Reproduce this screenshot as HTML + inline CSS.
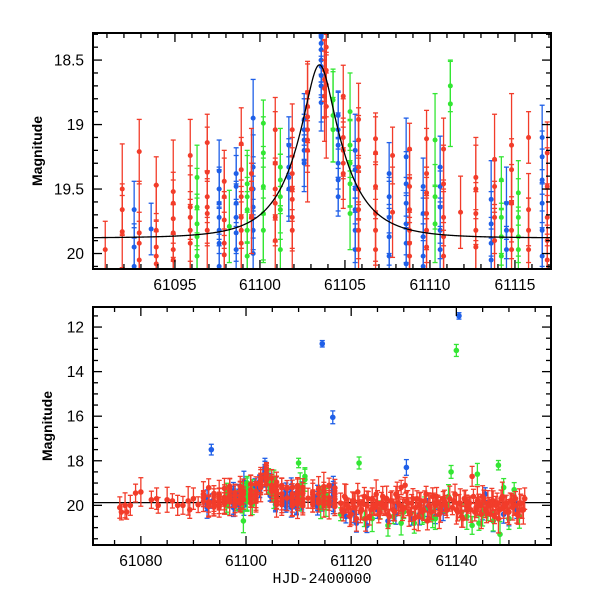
<!DOCTYPE html>
<html><head><meta charset="utf-8"><style>
html,body{margin:0;padding:0;background:#fff;}
svg{display:block;font-family:"Liberation Sans",sans-serif;}
</style></head><body>
<svg id="chart" width="600" height="600" viewBox="0 0 600 600">
<defs>
<clipPath id="clipTop"><rect x="93" y="33" width="458" height="236"/></clipPath>
<clipPath id="clipBot"><rect x="93" y="307" width="458" height="238"/></clipPath>
</defs>
<g id="top"></g>
<g id="bot"></g>
</svg>
<script>
const redT=[
61076,61076.3,61077,61077.3,61078,61079,61080,61082,61083,61083.3,61085,61086,61087,61088,61089,61089.3,61090,
61090.9,
61091.9,61091.9,61091.9,
61092.9,61092.9,61092.9,61092.9,
61093.9,61093.9,61093.9,61093.9,61093.9,
61094.9,61094.9,61094.9,61094.9,61094.9,61094.9,
61095.9,61095.9,61095.9,61095.9,61095.9,
61096.9,61096.9,61096.9,61096.9,61096.9,61096.9,
61097.9,61097.9,61097.9,61097.9,61097.9,
61098.9,61098.9,61098.9,61098.9,61098.9,61098.9,
61099.5,61099.5,61099.5,
61100.9,61100.9,61100.9,61100.9,61100.9,61100.9,
61101.9,61101.9,61101.9,61101.9,61101.9,61101.9,
61102.8,61102.8,61102.8,61102.8,61102.8,61102.8,
61103.8,61103.8,61103.8,61103.8,
61103.9,61103.9,61103.9,61103.9,
61104.9,61104.9,61104.9,61104.9,61104.9,
61105.8,61105.8,61105.8,61105.8,61105.8,61105.8,61105.8,
61106.8,61106.8,61106.8,61106.8,61106.8,61106.8,
61107.8,61107.8,
61108.8,61108.8,61108.8,61108.8,61108.8,61108.8,
61109.8,61109.8,61109.8,61109.8,61109.8,61109.8,
61110.8,61110.8,61110.8,61110.8,61110.8,
61111.8,
61112.7,61112.7,61112.7,61112.7,61112.7,
61113.8,61113.8,61113.8,61113.8,
61114.8,61114.8,61114.8,61114.8,61114.8,
61115.8,61115.8,61115.8,61115.8,
61116.9,61116.9,61116.9,61116.9,61116.9,
61118,61118.5,61119,61119.5,61120,61120.5,61121,61121.5,61122,61122.5,61123,61123.5,61124,61124.5,61125,61125.5,61126,61126.5,61127,61127.5,61128,61128.5,61129,61129.5,61130,61130.5,61131,61131.5,61132,61132.5,61133,61133.5,61134,61134.5,61135,61135.5,61136,61136.5,61137,61137.5,61138,61139.5,61140,61140.5,61141,61141.5,61142,61142.5,61143,61143.5,61144,61144.5,61145,61145.5,61146,61146.5,61147,61147.5,61148,61148.5,61149,61149.5,61150,61150.5,61151,61151.5,61152,61152.5,61153,
61118.25,61118.75,61119.25,61119.75,61120.25,61120.75,61121.25,61121.75,61122.25,61122.75,
61123.25,61123.75,61124.25,61124.75,61125.25,61125.75,61126.25,61126.75,61127.25,61127.75,
61128.25,61128.75,61129.25,61129.75,61130.25,61130.75,61131.25,61131.75,61132.25,61132.75,
61133.25,61133.75,61134.25,61134.75,61135.25,61135.75,61136.25,61136.75,61137.25,61137.75,
61138.25,61138.75,61139.25,61139.75,61140.25,61140.75,61141.25,61141.75,61142.25,61142.75,
61143.25,61143.75,61144.25,61144.75,61145.25,61145.75,61146.25,61146.75,61147.25,61147.75,
61148.25,61148.75,61149.25,61149.75,61150.25,61150.75,61151.25,61151.75,61152.25,61152.75];
const redM=[
20.1,20.3,20.0,20.3,20.0,19.45,19.4,19.75,19.7,20.0,19.75,19.8,20.0,20.0,19.8,20.2,19.7,
19.97,
19.5,19.66,19.83,
19.21,19.84,19.92,20.05,
19.47,19.82,19.95,20.02,20.08,
19.52,19.61,19.73,19.84,19.97,20.05,
19.24,19.64,19.72,19.82,19.92,
19.14,19.37,19.56,19.64,19.69,19.82,
19.44,19.56,19.74,19.92,20.01,
19.15,19.35,19.56,19.72,19.82,19.92,
19.38,19.5,19.72,
19.04,19.3,19.5,19.61,19.72,19.9,
19.04,19.38,19.5,19.58,19.72,19.82,
18.75,18.86,18.94,19.04,19.12,19.2,
18.58,18.65,18.72,18.78,
18.4,18.58,18.69,18.86,
18.78,19.1,19.2,19.3,19.38,
18.96,19.12,19.33,19.5,19.66,19.82,19.97,
19.11,19.22,19.48,19.69,19.82,19.97,
19.24,19.68,
19.19,19.48,19.66,19.82,19.92,20.02,
19.11,19.38,19.53,19.69,19.82,19.95,
19.19,19.46,19.72,19.87,20.02,
19.68,
19.41,19.5,19.69,19.82,19.95,
19.27,19.48,19.72,19.9,
19.16,19.35,19.61,19.82,19.97,
19.1,19.66,19.82,19.97,
19.22,19.48,19.72,19.9,20.05,
19.9,20.3,19.7,20.1,20.4,19.8,20.6,19.9,20.2,19.6,20.0,20.5,19.7,20.1,19.9,20.3,19.6,20.0,20.4,19.8,20.2,19.5,19.9,19.2,20.1,19.8,20.3,19.9,20.6,19.7,20.0,20.3,19.8,20.7,20.1,19.6,20.0,19.9,20.2,19.7,20.0,19.8,20.2,19.9,20.5,19.7,20.1,19.9,18.7,20.3,19.8,20.0,19.6,20.2,19.9,20.4,19.8,20.0,20.6,19.7,20.1,19.9,20.3,19.8,20.0,20.4,19.9,20.2,19.7,
20.2,19.6,20.0,20.5,19.8,20.1,19.4,20.3,19.9,20.6,
19.7,20.2,20.0,19.5,20.4,19.9,20.1,19.7,20.5,19.8,
20.3,19.6,20.0,20.2,19.1,19.9,20.4,19.7,20.1,20.5,
19.8,20.2,19.5,20.0,20.3,19.9,19.6,20.4,20.0,19.8,
20.2,19.7,20.1,19.5,20.3,19.9,20.6,19.8,20.0,20.2,
19.6,20.1,19.9,20.4,19.7,20.3,20.0,19.8,20.5,19.9,
20.2,19.6,20.0,20.3,19.8,20.1,19.7,20.4,19.9,20.2];
const redErr=[0.3,0.22,0.35,0.2,0.28,0.25,0.4,0.24];
const blueT=[
61092.6,61092.6,61092.6,
61093.4,
61093.6,
61097.6,61097.6,61097.6,61097.6,61097.6,61097.6,61097.6,
61098.6,61098.6,61098.6,61098.6,61098.6,61098.6,
61099.6,61099.6,61099.6,61099.6,61099.6,61099.6,
61101.7,61101.7,61101.7,61101.7,
61102.6,61102.6,61102.6,61102.6,61102.6,
61103.6,61103.6,61103.6,61103.6,61103.6,61103.6,61103.6,61103.6,
61104.6,61104.6,61104.6,61104.6,61104.6,61104.6,
61105.6,61105.6,61105.6,61105.6,61105.6,61105.6,
61107.6,61107.6,61107.6,61107.6,61107.6,
61108.6,61108.6,61108.6,61108.6,61108.6,61108.6,
61109.6,61109.6,61109.6,61109.6,61109.6,
61110.6,61110.6,61110.6,61110.6,61110.6,
61113.6,61113.6,61113.6,61113.6,
61114.5,61114.5,61114.5,61114.5,
61116.5,
61116.6,61116.6,61116.6,61116.6,61116.6,61116.6,
61119,61120.5,61121,61123,61125,61127,61128.5,61130.5,61131.5,61133,61134.5,61136,61137.5,61140.5,61142,61145,61145.5,61147,61149,61150,61151.5];
const blueM=[
19.66,19.95,20.1,
17.5,
19.81,
19.36,19.5,19.61,19.72,19.82,19.92,20.1,
19.38,19.48,19.61,19.72,19.84,19.97,
18.95,19.33,19.5,19.64,19.82,20.0,
19.16,19.33,19.41,19.5,
18.96,19.04,19.12,19.2,19.3,
18.32,18.37,18.42,18.5,18.55,18.62,18.7,18.83,
18.93,19.04,19.16,19.3,19.43,19.56,
19.2,19.35,19.5,19.66,19.82,19.97,
19.38,19.56,19.72,19.87,20.02,
19.25,19.46,19.61,19.77,19.92,20.08,
19.48,19.69,19.87,20.02,20.1,
19.33,19.48,19.64,19.82,19.97,
19.58,19.77,19.92,20.05,
12.75,19.61,19.82,19.97,
16.05,
19.1,19.25,19.43,19.61,19.82,20.02,
20.5,20.3,20.8,20.9,20.2,20.7,20.4,18.3,20.6,20.4,20.1,20.5,20.3,11.5,20.2,20.3,19.5,20.7,20.4,20.6,20.2];
const blueErr=[0.22,0.18,0.3,0.25,0.2,0.24,0.15,0.28];
const greenT=[
61096.3,61096.3,61096.3,61096.3,61096.3,
61098.2,
61099.25,61099.25,61099.25,61099.25,61099.25,
61099.5,
61100.2,61100.2,61100.2,61100.2,61100.2,
61101.2,61101.2,61101.2,61101.2,61101.2,
61104.3,61104.3,61104.3,
61105.3,61105.3,61105.3,61105.3,61105.3,
61110,
61110.3,61110.3,61110.3,
61111.2,61111.2,
61114.2,61114.2,61114.2,61114.2,
61115.2,61115.2,61115.2,61115.2,
61118,61121.5,61122.5,61124,61125.5,61127,61128,61129.5,61130,61132,61133.5,61134,61135.5,61136,61138,61138.5,61139,61140,61141,61142,61143,61144,61144.3,61145,61146,61147,61148,61148.3,61149,61150,61151,61152];
const greenM=[
19.41,19.64,19.77,19.87,20.02,
19.79,
19.46,19.56,19.66,19.82,20.02,
20.7,
18.99,19.22,19.48,19.69,19.82,
19.33,19.43,19.56,19.66,19.97,
18.81,18.93,19.04,
18.9,19.16,19.3,19.46,19.69,
18.1,
19.12,19.56,19.77,
18.7,18.84,
19.43,19.72,19.87,20.02,
19.53,19.72,19.87,19.97,
20.4,18.1,20.6,20.6,20.2,20.9,20.5,20.8,20.3,20.8,20.5,20.2,20.6,20.6,20.0,19.6,18.5,13.05,20.3,20.5,20.9,18.6,20.8,20.4,20.4,20.7,18.2,21.3,19.2,20.6,19.3,20.5];
const greenErr=[0.25,0.3,0.2,0.33,0.18,0.28,0.22,0.36];
// model parameters
const model={t0:61103.5,u0:0.3,tE:2.7,base:19.88};

const NS="http://www.w3.org/2000/svg";
function mk(tag,attrs,parent){const e=document.createElementNS(NS,tag);for(const k in attrs)e.setAttribute(k,attrs[k]);parent.appendChild(e);return e;}
function modelMag(t){const u=Math.sqrt(model.u0*model.u0+Math.pow((t-model.t0)/model.tE,2));const A=(u*u+2)/(u*Math.sqrt(u*u+4));return model.base-2.5*Math.log10(A);}

function panel(g,cfg){
  const L=93,R=551,T=cfg.top,B=cfg.bottom;
  const xs=t=>L+(t-cfg.x0)/(cfg.x1-cfg.x0)*(R-L);
  const ys=m=>T+(m-cfg.y0)/(cfg.y1-cfg.y0)*(B-T);
  const plot=mk('g',{'clip-path':'url(#'+cfg.clip+')'},g);
  
  
  function drawModel(){
    let d='';
    for(let k=0;k<=1200;k++){const t=cfg.x0+(cfg.x1-cfg.x0)*k/1200;d+=(k?'L':'M')+xs(t).toFixed(2)+','+ys(modelMag(t)).toFixed(2);}
    const ml=mk('path',{d:d,fill:'none',stroke:'#000','stroke-width':1.3},plot);
    
    
  }
  if(cfg.modelFirst) drawModel();
  const series=[['blue',blueT,blueM,blueErr,'#1f5fe8'],['green',greenT,greenM,greenErr,'#33e633'],['red',redT,redM,redErr,'#f23c2a']];
  for(const [nm,T_,M_,E_,col] of series){
    const sg=mk('g',{stroke:col,fill:col},plot);
    
    
    const n=Math.min(T_.length,M_.length);
    for(let i=0;i<n;i++){
      const e=E_[i%E_.length]*(M_[i]<18.3?0.6:1)*cfg.errScale;
      const x=xs(T_[i]),y=ys(M_[i]),y1=ys(M_[i]-e),y2=ys(M_[i]+e);
      const pg=mk('g',{},sg);
      
      
      mk('line',{x1:x,x2:x,y1:y1,y2:y2,'stroke-width':1.3},pg);
      mk('line',{x1:x-2.5,x2:x+2.5,y1:y1,y2:y1,'stroke-width':1.3},pg);
      mk('line',{x1:x-2.5,x2:x+2.5,y1:y2,y2:y2,'stroke-width':1.3},pg);
      mk('circle',{cx:x,cy:y,r:cfg.r,stroke:'none'},pg);
    }
  }
  if(!cfg.modelFirst) drawModel();
  const fr=mk('rect',{x:L,y:T,width:R-L,height:B-T,fill:'none',stroke:'#000','stroke-width':2},g);
  
  
  const ax=mk('g',{stroke:'#000','stroke-width':1.3},g);
  
  
  for(let v=Math.ceil(cfg.x0/cfg.xmin)*cfg.xmin;v<=cfg.x1;v+=cfg.xmin){
    const x=xs(v),maj=Math.abs(v/cfg.xmaj-Math.round(v/cfg.xmaj))<1e-6,len=maj?9:5;
    mk('line',{x1:x,x2:x,y1:B,y2:B-len},ax);mk('line',{x1:x,x2:x,y1:T,y2:T+len},ax);
    if(maj){const tx=mk('text',{x:x,y:B+21,'text-anchor':'middle','font-size':15.5,stroke:'none',fill:'#000'},g);tx.textContent=Math.round(v);
      }
  }
  const ystart=Math.ceil(Math.min(cfg.y0,cfg.y1)/cfg.ymin-1e-6)*cfg.ymin;
  for(let v=ystart;v<=Math.max(cfg.y0,cfg.y1)+1e-6;v+=cfg.ymin){
    const y=ys(v),maj=Math.abs(v/cfg.ymaj-Math.round(v/cfg.ymaj))<1e-6,len=maj?9:5;
    mk('line',{x1:L,x2:L+len,y1:y,y2:y},ax);mk('line',{x1:R,x2:R-len,y1:y,y2:y},ax);
    if(maj){const tx=mk('text',{x:L-9,y:y+5.5,'text-anchor':'end','font-size':15.5,stroke:'none',fill:'#000'},g);tx.textContent=+v.toFixed(1);
      }
  }
  const yl=mk('text',{transform:'translate('+cfg.ylx+','+((T+B)/2)+') rotate(-90)','text-anchor':'middle','font-size':14,'font-weight':'bold',fill:'#000'},g);
  yl.textContent='Magnitude';
  
}
panel(document.getElementById('top'),{top:33,bottom:269,x0:61090.18,x1:61117.12,y0:18.29,y1:20.12,xmaj:5,xmin:1,ymaj:0.5,ymin:0.1,clip:'clipTop',ylx:42,errScale:1,r:2.5,modelFirst:false});
panel(document.getElementById('bot'),{top:307,bottom:545,x0:61070.9,x1:61158,y0:11.1,y1:21.78,xmaj:20,xmin:5,ymaj:2,ymin:0.5,clip:'clipBot',ylx:52,errScale:1.6,r:2.8,modelFirst:true});
const xt=mk('text',{x:322,y:583,'text-anchor':'middle','font-size':15,'font-family':'"Liberation Mono",monospace',fill:'#000'},document.getElementById('bot'));
xt.textContent='HJD-2400000';


</script>
</body></html>
